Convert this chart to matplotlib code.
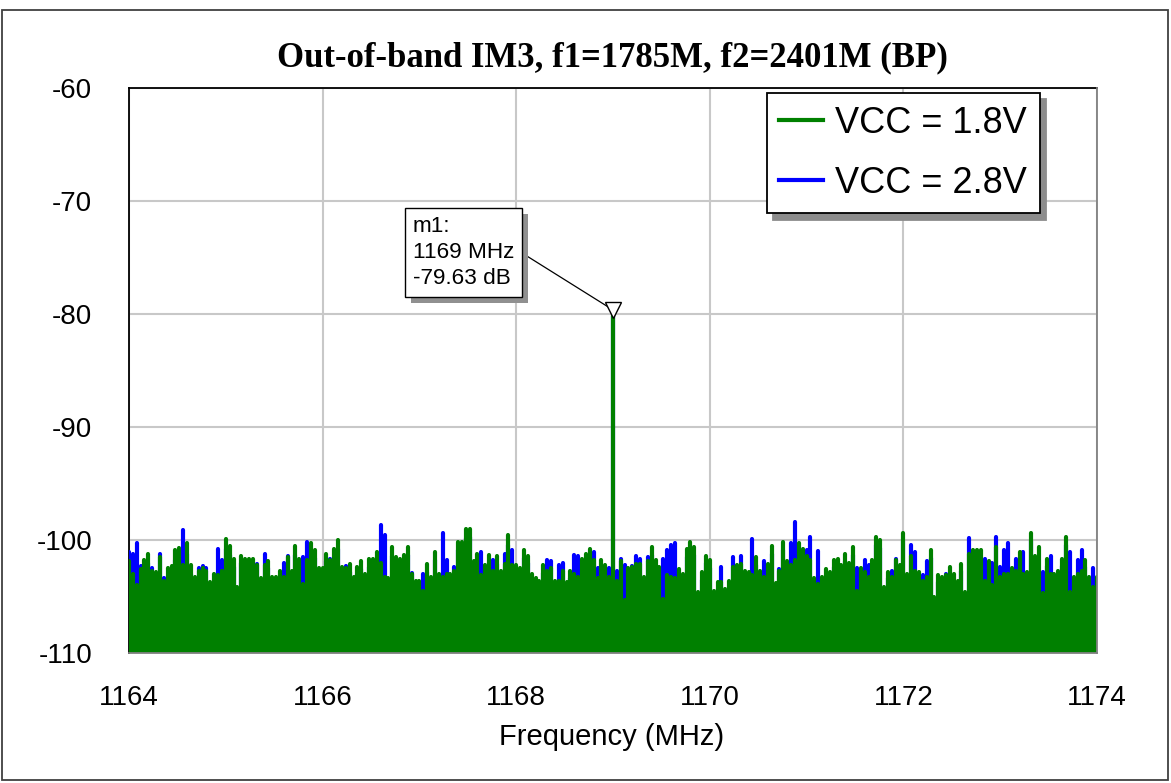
import matplotlib
matplotlib.use("Agg")
import matplotlib.pyplot as plt
from matplotlib.patches import Rectangle
import numpy as np

# ---------------- data ----------------
f_start = 1164.0
f_step = 0.04
vcc18 = [
    -101.9, -103.0, -104.0, -102.6, -101.8, -101.2, -102.7, -102.8, -101.5, -103.6,
    -102.5, -102.3, -100.9, -100.7, -102.2, -100.3, -102.2, -103.3, -102.7, -102.5,
    -102.7, -103.7, -103.0, -103.1, -102.7, -99.9, -100.5, -101.7, -104.2, -101.4,
    -101.7, -101.7, -101.7, -102.2, -103.4, -102.2, -101.9, -103.3, -103.3, -102.7,
    -103.3, -101.5, -102.7, -100.5, -101.7, -103.9, -101.8, -100.3, -100.9, -102.5,
    -102.5, -101.2, -101.8, -100.8, -100.0, -102.4, -102.5, -102.1, -103.3, -102.4,
    -101.9, -103.0, -101.7, -101.7, -101.1, -102.0, -103.3, -103.4, -100.6, -101.5,
    -101.7, -101.3, -100.6, -103.0, -103.6, -103.6, -104.5, -102.1, -103.3, -101.1,
    -103.0, -103.3, -103.0, -103.0, -102.7, -100.2, -100.2, -99.0, -99.0, -101.9,
    -101.2, -103.1, -102.2, -101.3, -102.7, -101.4, -102.7, -102.1, -99.6, -102.2,
    -102.2, -102.5, -100.9, -101.4, -103.0, -103.4, -103.6, -102.2, -102.7, -102.5,
    -103.6, -103.6, -102.7, -103.7, -102.7, -103.0, -103.3, -101.7, -101.2, -100.8,
    -101.8, -103.4, -101.8, -102.2, -103.3, -79.63, -103.6, -101.9, -105.3, -102.5,
    -102.4, -102.1, -102.1, -103.3, -101.9, -100.6, -101.8, -102.4, -105.2, -103.1,
    -103.3, -103.4, -102.6, -103.0, -100.8, -100.2, -100.6, -104.6, -102.8, -101.4,
    -101.8, -104.5, -103.7, -103.7, -104.3, -103.6, -102.4, -102.2, -102.1, -102.7,
    -102.8, -103.1, -101.5, -102.7, -103.3, -102.1, -100.5, -103.8, -102.7, -100.2,
    -101.9, -102.2, -101.8, -100.3, -100.8, -101.4, -101.8, -103.4, -103.9, -103.3,
    -102.6, -102.8, -101.8, -101.7, -102.2, -101.2, -102.0, -100.6, -104.5, -102.5,
    -102.8, -103.3, -101.8, -99.7, -100.0, -104.2, -102.8, -103.3, -101.8, -102.2,
    -99.4, -103.0, -101.4, -102.7, -102.8, -103.6, -103.3, -100.9, -105.0, -103.1,
    -103.3, -103.1, -102.4, -103.0, -103.6, -102.1, -104.6, -101.2, -100.9, -100.9,
    -100.9, -103.6, -101.9, -104.0, -100.6, -103.3, -103.0, -103.0, -102.5, -102.7,
    -101.1, -103.0, -102.8, -99.4, -101.4, -100.6, -104.7, -101.7, -103.0, -103.0,
    -102.7, -101.7, -99.7, -104.6, -103.3, -103.0, -102.7, -101.8, -103.3, -104.2,
    -103.3,
]
vcc28 = [
    -101.1, -101.2, -100.3, -102.3, -102.6, -102.0, -102.5, -103.0, -101.2, -103.4,
    -103.2, -103.0, -101.8, -101.5, -99.1, -101.2, -103.0, -103.8, -102.5, -102.3,
    -102.5, -105.0, -103.6, -100.8, -101.8, -100.8, -101.3, -102.4, -106.2, -102.0,
    -102.4, -102.5, -102.3, -102.1, -103.6, -101.2, -102.5, -103.8, -104.0, -103.3,
    -102.0, -101.4, -104.2, -101.3, -102.4, -101.5, -100.2, -101.0, -101.6, -103.1,
    -103.0, -101.9, -101.7, -101.5, -100.8, -103.0, -102.3, -102.8, -105.4, -103.0,
    -102.6, -103.6, -102.4, -102.3, -101.8, -98.7, -99.6, -104.0, -101.4, -102.1,
    -102.4, -102.0, -101.3, -102.9, -104.2, -104.3, -103.0, -102.8, -103.9, -101.8,
    -103.6, -99.4, -101.8, -103.6, -102.4, -100.9, -100.8, -99.8, -99.7, -102.5,
    -101.9, -101.1, -102.8, -102.0, -101.8, -102.1, -103.3, -101.2, -100.4, -100.9,
    -102.8, -103.1, -101.6, -102.0, -103.7, -104.0, -104.2, -102.9, -101.8, -101.9,
    -104.2, -102.2, -102.0, -104.3, -103.4, -101.3, -101.4, -102.3, -101.9, -101.5,
    -101.1, -102.5, -102.4, -102.8, -102.5, -80.2, -102.7, -101.7, -102.2, -103.1,
    -102.3, -101.4, -101.7, -103.9, -101.5, -101.3, -102.4, -103.0, -101.7, -100.9,
    -100.4, -100.3, -103.2, -103.6, -101.5, -100.9, -101.3, -105.2, -103.5, -102.0,
    -102.5, -105.1, -104.3, -102.4, -104.9, -104.2, -101.5, -102.8, -101.4, -103.3,
    -103.4, -99.9, -102.2, -103.3, -101.9, -102.7, -101.2, -104.4, -102.6, -100.9,
    -102.5, -100.3, -98.4, -101.0, -101.5, -100.9, -99.7, -104.0, -101.0, -103.9,
    -103.2, -103.9, -102.4, -102.3, -102.8, -101.9, -102.7, -101.3, -102.5, -103.1,
    -101.8, -102.2, -102.4, -100.4, -100.7, -104.8, -103.4, -102.7, -101.7, -102.8,
    -100.1, -103.6, -100.4, -101.1, -103.4, -103.1, -101.9, -101.6, -105.6, -103.7,
    -103.9, -103.0, -103.0, -103.6, -104.2, -102.7, -105.2, -99.8, -101.6, -101.5,
    -101.6, -101.7, -102.5, -102.0, -99.7, -102.4, -100.9, -100.3, -103.1, -101.7,
    -101.8, -101.1, -103.4, -100.1, -102.0, -106.4, -102.8, -102.3, -101.4, -103.6,
    -103.3, -102.3, -100.4, -101.1, -103.9, -101.8, -100.9, -102.4, -103.9, -102.5,
    -103.9,
]
series_labels = ["VCC = 1.8V", "VCC = 2.8V"]
x_ticks = [1164, 1166, 1168, 1170, 1172, 1174]
y_ticks = [-110, -100, -90, -80, -70, -60]
marker_freq = 1169.0
marker_val = -79.63
title = "Out-of-band IM3, f1=1785M, f2=2401M (BP)"
xlabel = "Frequency (MHz)"

freqs = f_start + f_step * np.arange(len(vcc18))

# ---------------- figure ----------------
W, H = 1171, 783
fig = plt.figure(figsize=(W / 100, H / 100), dpi=100)
ax = fig.add_axes([129 / W, 1 - 653 / H, 968 / W, 565 / H])

SANS = ["Liberation Sans", "DejaVu Sans"]
SERIF = ["Liberation Serif", "DejaVu Serif"]

floor = -115
lw = 3.0
ax.vlines(freqs, floor, vcc28, colors="#0000ff", linewidth=lw, capstyle="round", zorder=3)
ax.vlines(freqs, floor, vcc18, colors="#008000", linewidth=lw, capstyle="round", zorder=4)

# legend proxies
ax.plot([], [], color="#008000", lw=3, label=series_labels[0])
ax.plot([], [], color="#0000ff", lw=3, label=series_labels[1])

ax.set_xlim(1164, 1174)
ax.set_ylim(-110, -60)
ax.set_xticks(x_ticks)
ax.set_yticks(y_ticks)
ax.set_xticklabels([str(t) for t in x_ticks], family=SANS, fontsize=20)
ax.set_yticklabels([str(t) for t in y_ticks], family=SANS, fontsize=20)
ax.tick_params(length=0)
ax.tick_params(axis="y", pad=26.5)
ax.tick_params(axis="x", pad=23)
ax.grid(True, color="#c8c8c8", lw=1.5, zorder=0)
ax.set_axisbelow(True)
for s in ["left", "top"]:
    ax.spines[s].set_color("black")
    ax.spines[s].set_linewidth(1.3)
for s in ["right", "bottom"]:
    ax.spines[s].set_color("#808080")
    ax.spines[s].set_linewidth(1.3)
    ax.spines[s].set_zorder(6)

# marker
ax.plot([marker_freq], [marker_val], marker="v", ms=11, mfc="white", mec="black",
        mew=1.0, zorder=8, clip_on=False)
# annotation box
box_x, box_y = 1166.93, -71.33
txt = "m1:\n1169 MHz\n-79.63 dB"
ann = ax.text(box_x, box_y, txt, fontsize=16.2, family=SANS, color="black",
              va="top", ha="left", linespacing=1.32, zorder=7.5,
              bbox=dict(boxstyle="square,pad=0.35", fc="white", ec="black", lw=1))
ax.plot([1168.06, marker_freq - 0.03], [-74.6, marker_val + 0.15], color="black", lw=0.9, zorder=7)

leg = ax.legend(loc="upper right", bbox_to_anchor=(0.941, 0.991), borderaxespad=0,
                prop={"family": SANS, "size": 26}, frameon=True, fancybox=False,
                shadow={"ox": 4.5, "oy": -4.5, "facecolor": "#8c8c8c",
                        "edgecolor": "#8c8c8c", "alpha": 1},
                handlelength=1.2, handletextpad=0.35, labelspacing=0.69,
                borderpad=0.35)
leg.get_frame().set_edgecolor("black")
leg.get_frame().set_linewidth(1.3)
leg.set_zorder(10)

fig.text(612 / W, 1 - 58 / H, title, ha="center", va="center", family=SERIF,
         fontweight="bold", fontsize=25)
fig.text(612 / W, 1 - 737 / H, xlabel, ha="center", va="center", family=SANS, fontsize=21)

fig.patches.append(Rectangle((2 / W, 1 - 780 / H), 1166 / W, 770 / H, transform=fig.transFigure,
                             fill=False, ec="#404040", lw=1.3))

# shadow behind the marker box
fig.canvas.draw()
bb = ann.get_bbox_patch().get_window_extent(fig.canvas.get_renderer())
off = 6
ax.add_artist(Rectangle((bb.x0 + off, bb.y0 - off), bb.width, bb.height,
                        transform=None, fc="#909090", ec="none", zorder=7.2))

fig.savefig("out.png", dpi=100)
